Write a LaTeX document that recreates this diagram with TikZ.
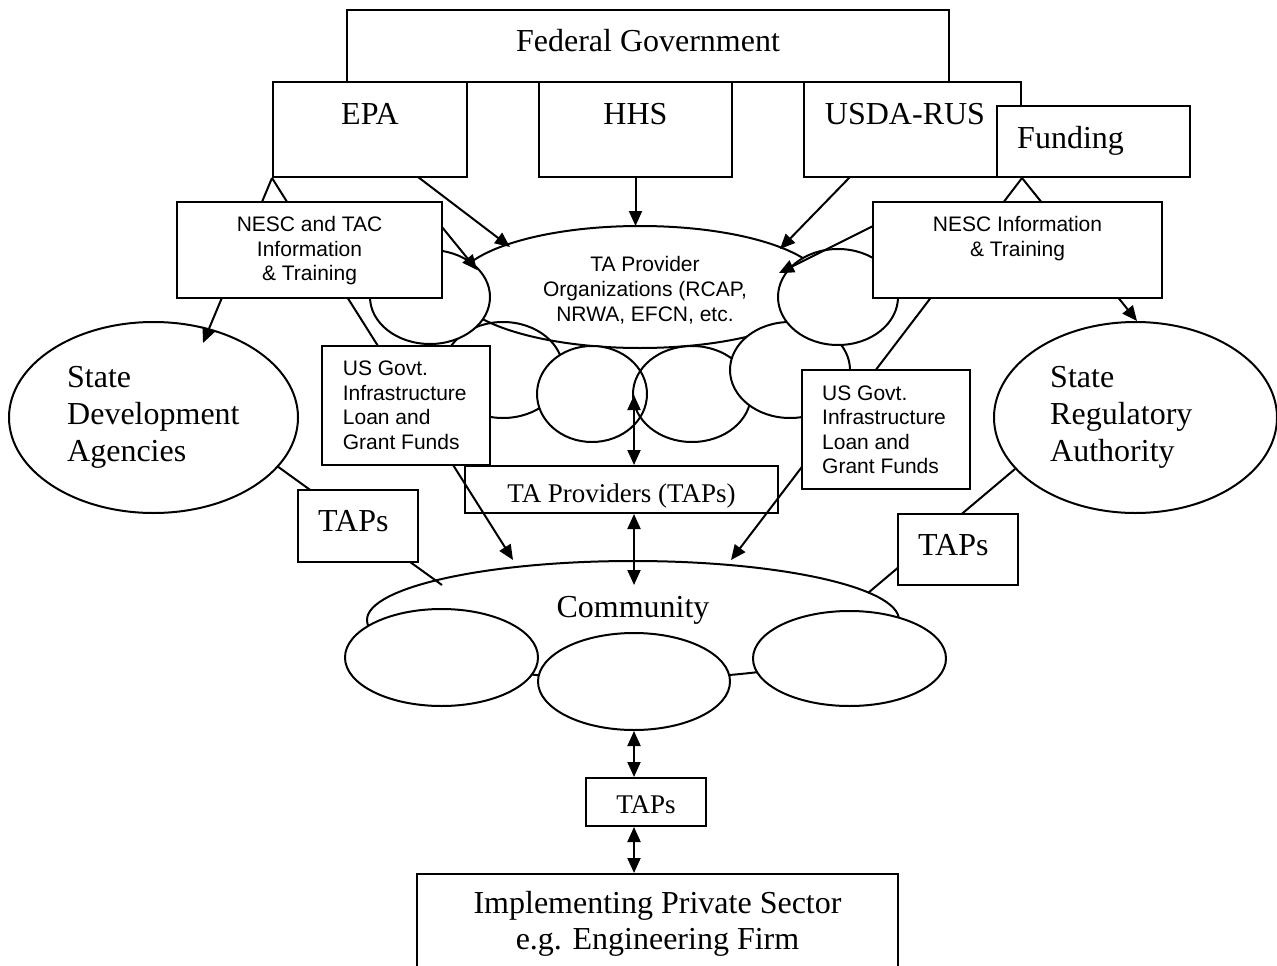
\documentclass[tikz,border=0pt]{standalone}
\usepackage{fontspec}
\setmainfont{Liberation Serif}
\newfontfamily\arialf{Liberation Sans}
\usetikzlibrary{arrows.meta,shapes.geometric,calc}
\pgfdeclarelayer{bgl}
\pgfdeclarelayer{ellayer}
\pgfdeclarelayer{tbox}
\pgfdeclarelayer{lns}
\pgfsetlayers{bgl,ellayer,tbox,lns,main}
\begin{document}
\begin{tikzpicture}[x=1pt,y=-1pt,
  ln/.style={line width=2pt},
  box/.style={draw,line width=2pt,fill=white,rectangle,inner sep=0pt},
  ell/.style={draw,line width=2pt,ellipse,inner sep=0pt},
  wfill/.style={fill=white},
  arr/.style={line width=2pt,-{Triangle[length=15pt,width=13pt]}},
  darr/.style={line width=2pt,{Triangle[length=15pt,width=13pt]}-{Triangle[length=15pt,width=13pt]}},
  big/.style={font=\fontsize{32}{37}\selectfont,inner sep=0pt},
  mid/.style={font=\fontsize{27}{32}\selectfont,inner sep=0pt},
  sans/.style={font=\arialf\fontsize{21}{24.6}\selectfont,inner sep=0pt},
]
\useasboundingbox (0,0) rectangle (1277,966);
\begin{pgfonlayer}{bgl}
  \fill[white] (0,0) rectangle (1277,966);
\end{pgfonlayer}

% ---------- ellipses ----------
\begin{pgfonlayer}{ellayer}
  \node[ell, minimum width=289pt, minimum height=191pt] (sda) at (153.5,417.5) {};
  \node[ell, minimum width=283pt, minimum height=191pt] (sra) at (1135.5,417.5) {};
  \node[ell, minimum width=532pt, minimum height=118pt] (com) at (633,620) {};
  \node[ell, wfill, minimum width=193pt, minimum height=97pt] (c1) at (441.5,657.5) {};
  \node[ell, wfill, minimum width=192pt, minimum height=97pt] (c2) at (634,681.5) {};
  \node[ell, wfill, minimum width=193pt, minimum height=95pt] (c3) at (849.5,658.5) {};
  \node[ell, minimum width=370pt, minimum height=122pt] (ta) at (640,287) {};
  \node[ell, minimum width=120pt, minimum height=96pt] (l2) at (503,370) {};
  \node[ell, wfill, minimum width=110pt, minimum height=96pt] (l3) at (592,394) {};
  \node[ell, minimum width=118pt, minimum height=96pt] (l4) at (692,394) {};
  \node[ell, wfill, minimum width=120pt, minimum height=96pt] (l5) at (790,370) {};
  \node[ell, wfill, minimum width=120pt, minimum height=94pt] (l1) at (430,297) {};
  \node[ell, wfill, minimum width=120pt, minimum height=96pt] (r1) at (838,297) {};
\end{pgfonlayer}

\begin{pgfonlayer}{tbox}
  \node[box, minimum width=313pt, minimum height=47pt] (tap) at (621.5,489.5) {};
\end{pgfonlayer}

% ---------- boxes ----------
\node[box, minimum width=602pt, minimum height=72pt] (fed) at (648,46) {};
\node[box, minimum width=194pt, minimum height=95pt] (epa) at (370,129.5) {};
\node[box, minimum width=193pt, minimum height=95pt] (hhs) at (635.5,129.5) {};
\node[box, minimum width=217pt, minimum height=95pt] (usda) at (912.5,129.5) {};
\node[box, minimum width=193pt, minimum height=71pt] (fund) at (1093.5,141.5) {};
\node[box, minimum width=265pt, minimum height=96pt] (nescL) at (309.5,250) {};
\node[box, minimum width=289pt, minimum height=96pt] (nescR) at (1017.5,250) {};
\node[box, minimum width=168pt, minimum height=119pt] (usL) at (406,405.5) {};
\node[box, minimum width=168pt, minimum height=119pt] (usR) at (886,429.5) {};
\node[box, minimum width=120pt, minimum height=72pt] (tapsL) at (358,526) {};
\node[box, minimum width=120pt, minimum height=71pt] (tapsR) at (958,549.5) {};
\node[box, minimum width=120pt, minimum height=48pt] (tapsB) at (646,802) {};
\node[box, minimum width=481pt, minimum height=136pt] (impl) at (657.5,942) {};

% ---------- connector ends ----------
\coordinate (tSDA) at (203,343);
\coordinate (tComL) at (513,560);
\coordinate (tSRA) at (1137,321);
\coordinate (tComR) at (731,560);
\coordinate (epaA) at (418,177);
\coordinate (tTA1) at (510,247);
\coordinate (nescLs) at (424,205);
\coordinate (tTA2) at (477,270);
\coordinate (tTA3) at (635.5,226);
\coordinate (usdaA) at (850,177);
\coordinate (tTA4) at (780,249);
\coordinate (nescRs) at (900,212.5);
\coordinate (tTA5) at (779,273);
\coordinate (tUp) at (634,395);
\coordinate (tComM) at (634,585);
\coordinate (sdaL) at (277,466);
\coordinate (comL) at (442,585);
\coordinate (sraL) at (1015,469);
\coordinate (comR) at (868,593);

\begin{pgfonlayer}{lns}
  \draw[arr] (epa.south west) -- (tSDA);
  \draw[arr] (epa.south west) -- (tComL);
  \draw[arr] (usda.south east) -- (tSRA);
  \draw[arr] (usda.south east) -- (tComR);
  \draw[arr] (epaA) -- (tTA1);
  \draw[arr] (nescLs) -- (tTA2);
  \draw[arr] (hhs.south) -- (tTA3);
  \draw[arr] (usdaA) -- (tTA4);
  \draw[arr] (nescRs) -- (tTA5);
  \draw[darr] (tUp) -- (tap.north -| tUp);
  \draw[darr] (tap.south -| tUp) -- (tComM);
  \draw[darr] (c2.south) -- (tapsB.north -| c2.south);
  \draw[darr] (tapsB.south -| c2.south) -- (impl.north -| c2.south);
  \draw[ln] (sdaL) -- (comL);
  \draw[ln] (sraL) -- (comR);
\end{pgfonlayer}

% ---------- texts ----------
\node[big, anchor=base] (fedT) at (648,52) {Federal Government};
\node[big, anchor=base] (epaT) at (370,124) {EPA};
\node[big, anchor=base] (hhsT) at (635.5,124) {HHS};
\node[big, anchor=base] (usdaT) at (905,124) {USDA-RUS};
\node[big, anchor=base west] (fundT) at (1017,148) {Funding};
\node[sans, anchor=base] (nescLT) at (309.5,231.5)
  {\begin{tabular}[t]{@{}c@{}}NESC and TAC\\Information\\\& Training\end{tabular}};
\node[sans, anchor=base] (nescRT) at (1017.5,231.7)
  {\begin{tabular}[t]{@{}c@{}}NESC Information\\\& Training\end{tabular}};
\node[sans, anchor=base west] (usLT) at (342.7,375.7)
  {\begin{tabular}[t]{@{}l@{}}US Govt.\\Infrastructure\\Loan and\\Grant Funds\end{tabular}};
\node[sans, anchor=base west] (usRT) at (822,400)
  {\begin{tabular}[t]{@{}l@{}}US Govt.\\Infrastructure\\Loan and\\Grant Funds\end{tabular}};
\node[sans, anchor=base, font=\arialf\fontsize{21}{24.8}\selectfont] (taT) at (645,271.7)
  {\begin{tabular}[t]{@{}c@{}}TA Provider\\Organizations (RCAP,\\NRWA, EFCN, etc.\end{tabular}};
\node[big, anchor=base west] (sdaT) at (67,387)
  {\begin{tabular}[t]{@{}l@{}}State\\Development\\Agencies\end{tabular}};
\node[big, anchor=base west] (sraT) at (1050,387)
  {\begin{tabular}[t]{@{}l@{}}State\\Regulatory\\Authority\end{tabular}};
\node[big, anchor=base west] (tapsLT) at (318,531) {TAPs};
\node[big, anchor=base west] (tapsRT) at (918,555) {TAPs};
\node[mid, anchor=base] (tapT) at (621.5,502) {TA Providers (TAPs)};
\node[big, anchor=base] (comT) at (633,617) {Community};
\node[mid, anchor=base] (tapsBT) at (646,813) {TAPs};
\node[big, anchor=base, font=\fontsize{32}{36}\selectfont] (implT) at (657.5,913)
  {\begin{tabular}[t]{@{}c@{}}Implementing Private Sector\\e.g. Engineering Firm\end{tabular}};
\end{tikzpicture}
\end{document}
